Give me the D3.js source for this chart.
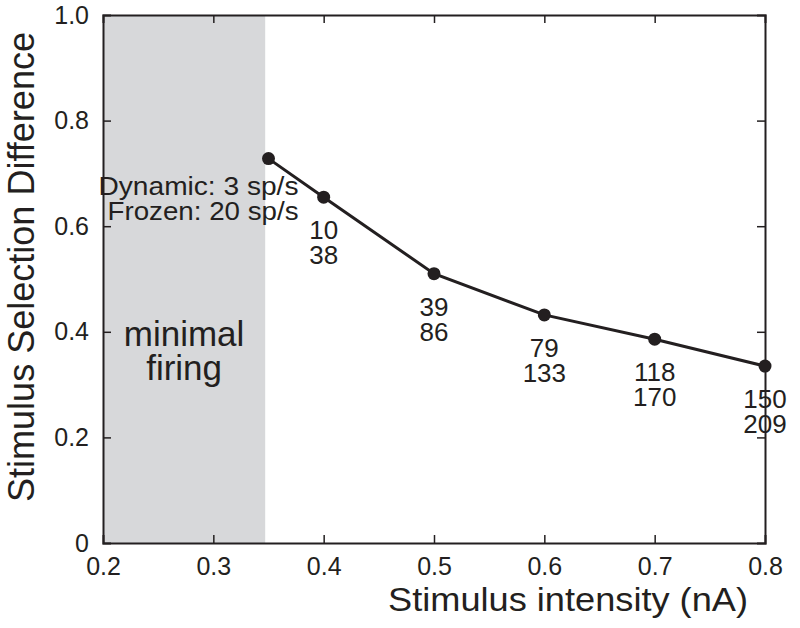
<!DOCTYPE html>
<html>
<head>
<meta charset="utf-8">
<script src="https://cdn.jsdelivr.net/npm/d3@7"></script>
<style>
  html, body { margin: 0; padding: 0; background: #fff; }
  svg { display: block; }
  text { font-family: "Liberation Sans", Arial, Helvetica, sans-serif; fill: #231f20; }
</style>
</head>
<body>
<svg id="chart" width="800" height="628"></svg>
<script>
// ---- data ----
const intensities = [0.35, 0.4, 0.5, 0.6, 0.7, 0.8];
const selectionDiff = [0.728, 0.655, 0.51, 0.432, 0.386, 0.335];
const dynamicRates = [3, 10, 39, 79, 118, 150];
const frozenRates = [20, 38, 86, 133, 170, 209];
const xTicks = [0.2, 0.3, 0.4, 0.5, 0.6, 0.7, 0.8];
const yTicks = [0, 0.2, 0.4, 0.6, 0.8, 1.0];
const minimalRange = [0.2, 0.347];
const xDomain = [0.2, 0.8];
const yDomain = [0, 1];

const svg = d3.select("#chart");
const L = 103, R = 765, T = 15, B = 543;
const x = d3.scaleLinear().domain(xDomain).range([L, R]);
const y = d3.scaleLinear().domain(yDomain).range([B, T]);
const ink = "#231f20";

// shaded minimal firing region
svg.append("rect")
  .attr("x", x(minimalRange[0])).attr("y", T)
  .attr("width", x(minimalRange[1]) - x(minimalRange[0]))
  .attr("height", B - T)
  .attr("fill", "#d7d8da");

// axes with inward ticks
const tickLen = 8;
const fmt = d => d === 0 ? "0" : d.toFixed(1);
const gB = svg.append("g").attr("transform", `translate(0,${B})`)
  .call(d3.axisBottom(x).tickValues(xTicks).tickSize(-tickLen).tickPadding(14).tickFormat(fmt));
const gT = svg.append("g").attr("transform", `translate(0,${T})`)
  .call(d3.axisTop(x).tickValues(xTicks).tickSize(-tickLen).tickFormat(""));
const gL = svg.append("g").attr("transform", `translate(${L},0)`)
  .call(d3.axisLeft(y).tickValues(yTicks).tickSize(-tickLen).tickPadding(14).tickFormat(fmt));
const gR = svg.append("g").attr("transform", `translate(${R},0)`)
  .call(d3.axisRight(y).tickValues(yTicks).tickSize(-tickLen).tickFormat(""));
[gB, gT, gL, gR].forEach(g => {
  g.select(".domain").attr("stroke", ink).attr("stroke-width", 2);
  g.selectAll(".tick line").attr("stroke", ink).attr("stroke-width", 1.5);
  g.selectAll(".tick text").attr("font-size", 25).attr("fill", ink)
    .attr("font-family", '"Liberation Sans", Arial, Helvetica, sans-serif');
});
gB.selectAll(".tick text").attr("dy", "0.71em");
// remove duplicate tick marks at the corners
gB.selectAll(".tick").filter(d => d === xDomain[0] || d === xDomain[1]).select("line").remove();
gT.selectAll(".tick").filter(d => d === xDomain[0] || d === xDomain[1]).select("line").remove();
gL.selectAll(".tick").filter(d => d === yDomain[0] || d === yDomain[1]).select("line").remove();
gR.selectAll(".tick").filter(d => d === yDomain[0] || d === yDomain[1]).select("line").remove();

// line + points
const pts = intensities.map((v, i) => [v, selectionDiff[i]]);
svg.append("path")
  .datum(pts)
  .attr("fill", "none").attr("stroke", ink).attr("stroke-width", 3)
  .attr("d", d3.line().x(d => x(d[0])).y(d => y(d[1])));
svg.selectAll("circle.pt").data(pts).enter().append("circle")
  .attr("class", "pt")
  .attr("cx", d => x(d[0])).attr("cy", d => y(d[1])).attr("r", 6.5)
  .attr("fill", ink);

// rate labels under points (first point labelled with text to the left)
intensities.forEach((v, i) => {
  const px = x(v), py = y(selectionDiff[i]);
  if (i === 0) {
    const t = svg.append("text").attr("font-size", 25);
    t.append("tspan").attr("x", px - 170).attr("y", py + 36)
      .attr("textLength", 200).attr("lengthAdjust", "spacingAndGlyphs")
      .text(`Dynamic: ${dynamicRates[i]} sp/s`);
    t.append("tspan").attr("x", px - 161).attr("y", py + 61)
      .attr("textLength", 191).attr("lengthAdjust", "spacingAndGlyphs")
      .text(`Frozen: ${frozenRates[i]} sp/s`);
  } else {
    const t = svg.append("text").attr("text-anchor", "middle").attr("font-size", 26);
    t.append("tspan").attr("x", px).attr("y", py + 42).text(dynamicRates[i]);
    t.append("tspan").attr("x", px).attr("y", py + 67).text(frozenRates[i]);
  }
});

// minimal firing label
const cx = (x(minimalRange[0]) + x(minimalRange[1])) / 2;
const mf = svg.append("text").attr("text-anchor", "middle").attr("font-size", 35);
mf.append("tspan").attr("x", cx).attr("y", 346).text("minimal");
mf.append("tspan").attr("x", cx).attr("y", 380).text("firing");

// axis titles
svg.append("text").attr("x", 388).attr("y", 611)
  .attr("font-size", 34).attr("textLength", 360).attr("lengthAdjust", "spacingAndGlyphs")
  .text("Stimulus intensity (nA)");
svg.append("text").attr("transform", "translate(34,502) rotate(-90)")
  .attr("x", 0).attr("y", 0)
  .attr("font-size", 36).attr("textLength", 470).attr("lengthAdjust", "spacingAndGlyphs")
  .text("Stimulus Selection Difference");
</script>
</body>
</html>
